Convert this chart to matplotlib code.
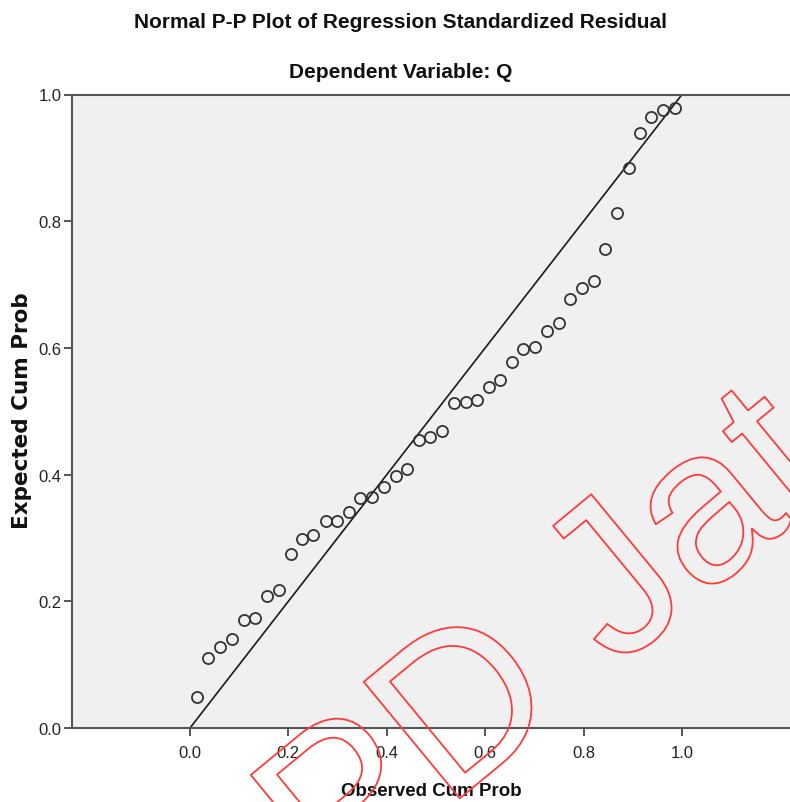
import matplotlib
matplotlib.use("Agg")
import matplotlib.pyplot as plt
import matplotlib.patheffects as pe

# observed vs expected cumulative probabilities
observed = [0.014, 0.037, 0.062, 0.085, 0.110, 0.132, 0.157, 0.181, 0.205, 0.228,
            0.251, 0.276, 0.298, 0.323, 0.346, 0.370, 0.394, 0.418, 0.441, 0.465,
            0.488, 0.512, 0.536, 0.560, 0.583, 0.607, 0.630, 0.654, 0.677, 0.701,
            0.725, 0.749, 0.772, 0.797, 0.821, 0.843, 0.867, 0.892, 0.915, 0.938,
            0.962, 0.986]
expected = [0.049, 0.110, 0.128, 0.140, 0.171, 0.174, 0.209, 0.218, 0.275, 0.298,
            0.305, 0.326, 0.326, 0.341, 0.363, 0.364, 0.380, 0.398, 0.409, 0.455,
            0.460, 0.469, 0.513, 0.514, 0.518, 0.538, 0.550, 0.577, 0.598, 0.601,
            0.626, 0.639, 0.677, 0.694, 0.705, 0.756, 0.813, 0.884, 0.939, 0.964,
            0.976, 0.979]
ref_line = [0.0, 1.0]
ticks = [0.0, 0.2, 0.4, 0.6, 0.8, 1.0]
tick_labels = ["0.0", "0.2", "0.4", "0.6", "0.8", "1.0"]

arial = ["Liberation Sans", "DejaVu Sans"]
spine_col = "#555555"

fig = plt.figure(figsize=(7.9, 8.03), dpi=100)
ax = fig.add_axes([72 / 790, 1 - 729 / 803, 1 - 72 / 790, (729 - 95.5) / 803])
ax.set_facecolor("#f0f0f0")

ax.plot(ref_line, ref_line, color="#1a1a1a", lw=1.2, zorder=2)
ax.plot(observed, expected, linestyle="none", marker="o", markersize=8,
        markerfacecolor="none", markeredgecolor="#333333", markeredgewidth=1.3, zorder=3)

ax.set_xlim(-0.2398, 1.2195)
ax.set_ylim(0, 1)
ax.set_xticks(ticks)
ax.set_xticklabels(tick_labels)
ax.set_yticks(ticks)
ax.set_yticklabels(tick_labels)
for lab in ax.get_xticklabels() + ax.get_yticklabels():
    lab.set_family(arial)
    lab.set_fontsize(12)
    lab.set_color("#222222")
ax.tick_params(axis="x", direction="out", length=6, width=1.4, color=spine_col, pad=6)
ax.tick_params(axis="y", direction="out", length=6, width=1.4, color=spine_col, pad=1.5)

ax.spines["right"].set_visible(False)
for s in ["left", "bottom", "top"]:
    ax.spines[s].set_color(spine_col)
    ax.spines[s].set_linewidth(1.5)

ax.set_xlabel("Observed Cum Prob", family=arial, fontsize=13.5, fontweight="bold",
              color="#111111")
ax.xaxis.set_label_coords(0.501, (729 - 783) / 633.5)
ax.set_ylabel("Expected Cum Prob", family="DejaVu Sans", fontsize=15.5, fontweight="bold",
              color="#111111")
ax.yaxis.set_label_coords((32 - 72) / 718, 0.503)

fig.text(0.507, 1 - 22 / 803, "Normal P-P Plot of Regression Standardized Residual",
         family=arial, fontsize=15, fontweight="bold", ha="center", va="center",
         color="#111111")
fig.text(0.507, 1 - 73 / 803, "Dependent Variable: Q",
         family=arial, fontsize=15, fontweight="bold", ha="center", va="center",
         color="#111111")

# outlined watermark
fig.text(220 / 790, 1 - 997 / 803, "SPD Jateng", fontsize=158, rotation=39.5,
         rotation_mode="anchor", ha="left", va="baseline", color="none",
         family=arial, zorder=10,
         path_effects=[pe.Stroke(linewidth=1.3, foreground="#ff3b3b")])

fig.savefig("out.png", dpi=100)
